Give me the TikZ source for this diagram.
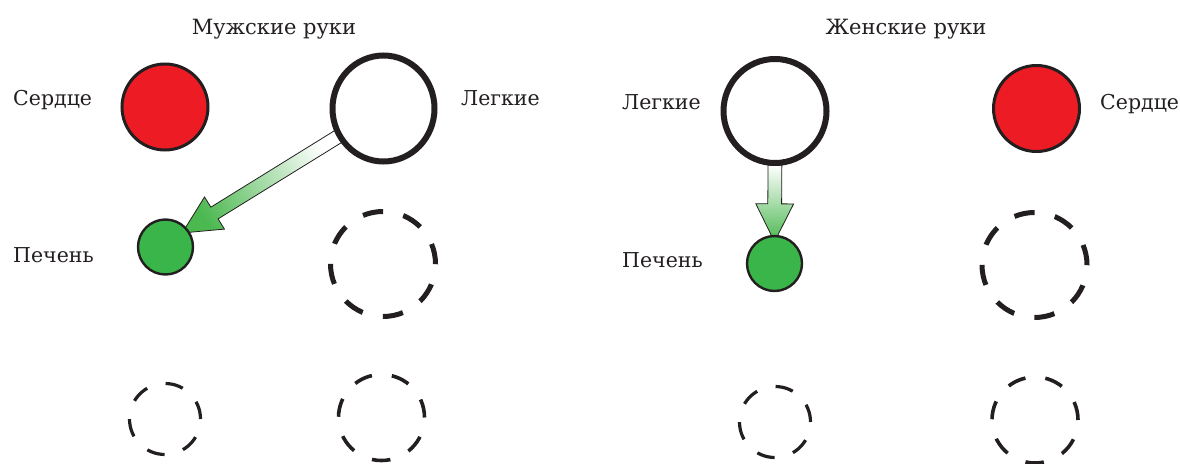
\documentclass[tikz,border=0pt]{standalone}
\usepackage{fontspec}
\setmainfont{DejaVu Serif}
\usetikzlibrary{shapes.geometric, shapes.arrows, calc, backgrounds}

\definecolor{heartred}{HTML}{ED1C24}
\definecolor{livergreen}{HTML}{39B54A}
\definecolor{flowgreen}{HTML}{4CB850}
\definecolor{ink}{HTML}{231F20}

\newcommand\flowarrow[2]{%
  \path let \p1=(#1), \p2=(#2), \n1={atan2(\y2-\y1,\x2-\x1)}, \n2={veclen(\x2-\x1,\y2-\y1)}, \n3={\n1+90} in
    node[flow, rotate=\n1, minimum height=\n2, shading angle=\n3] at ($(\p1)!0.5!(\p2)$) {};}

\begin{document}
\begin{tikzpicture}[x=1pt, y=-1pt,
    lbl/.style={font=\fontsize{20.5}{24}\selectfont, text=ink, inner sep=0pt},
    ttl/.style={font=\fontsize{21}{25}\selectfont, text=ink, inner sep=0pt, anchor=base},
    heart/.style={circle, draw=ink, fill=heartred, line width=3pt, inner sep=0pt, minimum size=86pt},
    liver/.style={circle, draw=ink, fill=livergreen, line width=2.4pt, inner sep=0pt, minimum size=55pt},
    lung/.style={ellipse, draw=ink, fill=white, line width=6pt, inner sep=0pt},
    bigslot/.style={circle, draw=ink, line width=5pt, inner sep=0pt, minimum size=105pt, dash pattern=on 20.5pt off 20.7pt},
    midslot/.style={circle, draw=ink, line width=3.6pt, inner sep=0pt, minimum size=86pt, dash pattern=on 18.5pt off 20.1pt},
    smallslot/.style={circle, draw=ink, line width=3.2pt, inner sep=0pt, minimum size=71pt, dash pattern=on 18pt off 19.2pt},
    flow/.style={single arrow, draw=ink, line width=0.8pt, inner xsep=0pt, inner ysep=6.5pt, minimum width=37pt,
      single arrow head extend=12pt, single arrow tip angle=53, top color=white, bottom color=flowgreen}]

  \useasboundingbox (0,0) rectangle (1180,463);

  % male hands
  \node[ttl]                   (mtitle)  at (274,34)  {Мужские руки};
  \node[heart]                 (mheart)  at (165,107) {};
  \node[lung, minimum width=102pt, minimum height=106pt] (mlung) at (383.5,108.5) {};
  \node[liver]                 (mliver)  at (165.5,247) {};
  \node[bigslot]               (mspare)  at (383,264) {};
  \node[smallslot]             (mlowL)   at (165,419) {};
  \node[midslot]               (mlowR)   at (381.5,417.5) {};
  \node[lbl, anchor=base west] (mheartl) at (13,105)  {Сердце};
  \node[lbl, anchor=base west] (mlungl)  at (461,105) {Легкие};
  \node[lbl, anchor=base west] (mliverl) at (13,262)  {Печень};

  % female hands
  \node[ttl]                   (ftitle)  at (906,34)  {Женские руки};
  \node[lung, minimum width=103pt, minimum height=104pt] (flung) at (775,111) {};
  \node[heart]                 (fheart)  at (1036.5,108.5) {};
  \node[liver]                 (fliver)  at (774.5,263.5) {};
  \node[bigslot]               (fspare)  at (1034.5,265) {};
  \node[smallslot]             (flowL)   at (775,422) {};
  \node[midslot]               (flowR)   at (1035,420) {};
  \node[lbl, anchor=base west] (flungl)  at (622,109) {Легкие};
  \node[lbl, anchor=base west] (fheartl) at (1100,109) {Сердце};
  \node[lbl, anchor=base west] (fliverl) at (622,267) {Печень};

  % transfer arrows
  \coordinate (mtip)  at (mliver.38);
  \coordinate (mtail) at ($(mlung)!45pt!(mtip)$);
  \coordinate (ftip)  at (fliver.north);
  \coordinate (ftail) at ($(flung.south)+(0,-8)$);
  \begin{scope}[on background layer]
    \flowarrow{mtail}{mtip}
    \flowarrow{ftail}{ftip}
  \end{scope}
\end{tikzpicture}
\end{document}
